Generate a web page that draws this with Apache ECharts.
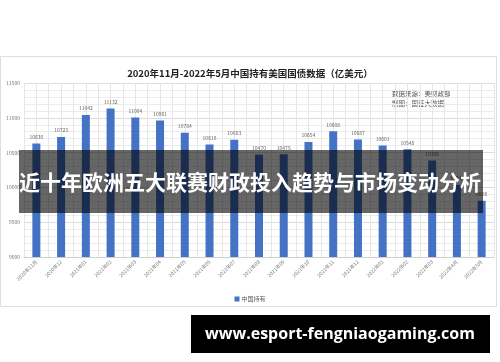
<!DOCTYPE html>
<html><head><meta charset="utf-8">
<script src="https://cdn.jsdelivr.net/npm/echarts@6/dist/echarts.min.js"></script>
<style>html,body{margin:0;padding:0;background:#fff}#c{width:500px;height:362px}</style>
</head><body><div id="c"></div>
<script>
const categories = ["2020年11月","2020年12","2021年01","2021年02","2021年03","2021年04","2021年05","2021年06","2021年07","2021年08","2021年09","2021年10","2021年11","2021年12","2022年01","2022年02","2022年03","2022年4月","2022年5月"];
const holdings = [10630,10723,11042,11132,11004,10961,10784,10618,10683,10470,10475,10654,10808,10687,10601,10548,10386,10036,9808];
const yTicks = [9000,9500,10000,10500,11000,11500];
const seriesName = "中国持有";
const titleText = "2020年11月-2022年5月中国持有美国国债数据（亿美元）";
const sourceLines = ["数据来源：美财政部","制图：国证大数据"];
const bannerText = "近十年欧洲五大联赛财政投入趋势与市场变动分析";
const watermark = "www.esport-fengniaogaming.com";

const F = '"Noto Sans CJK SC", "Noto Sans", sans-serif';
const chart = echarts.init(document.getElementById('c'));
chart.setOption({
  animation: false,
  backgroundColor: '#fff',
  textStyle: {fontFamily: F},
  title: {text: titleText, left: 'center', top: 64, textStyle: {fontSize: 9.5, fontWeight: 'bold', color: '#222', fontFamily: F}},
  legend: {data: [seriesName], left: 'center', top: 291, itemWidth: 5, itemHeight: 5, itemGap: 2, icon: 'rect',
    textStyle: {fontSize: 6, color: '#595959', padding: [0,0,0,-3]}},
  grid: {left: 24, right: 6, top: 83, bottom: 105},
  xAxis: [{
    type: 'category', data: categories,
    axisLine: {lineStyle: {color: '#d0d0d0'}}, axisTick: {show: false},
    splitLine: {show: false},
    axisLabel: {rotate: 45, fontSize: 5, color: '#777', interval: 0, margin: 4}
  }, {
    type: 'value', min: 0, max: 38, interval: 1, show: true, position: 'top',
    axisLine: {show: false}, axisTick: {show: false}, axisLabel: {show: false},
    splitLine: {show: true, lineStyle: {color: '#e6e6e6', width: 1}}
  }],
  yAxis: {
    type: 'value', min: yTicks[0], max: yTicks[yTicks.length-1], interval: 500,
    axisLine: {show: false}, axisTick: {show: false},
    axisLabel: {fontSize: 5, color: '#777', margin: 4, formatter: v => String(v)},
    splitLine: {lineStyle: {color: '#dcdcdc'}},
    minorTick: {show: false, splitNumber: 5},
    minorSplitLine: {show: true, lineStyle: {color: '#ececec'}}
  },
  series: [{
    name: seriesName, type: 'bar', data: holdings, barWidth: 8, xAxisIndex: 0,
    itemStyle: {color: '#4472C4'},
    label: {show: true, position: 'top', fontSize: 5, color: '#666', distance: 4}
  }],
  graphic: [
    {type: 'rect', shape: {x: 0.5, y: 56.5, width: 496, height: 250}, style: {fill: 'none', stroke: '#dedede', lineWidth: 1}, z: -10},
    {type: 'text', left: 392, top: 89, style: {text: sourceLines.join('\n'), fontSize: 6.5, lineHeight: 10, fill: '#555', fontFamily: F}},
    {type: 'rect', shape: {x: 19, y: 150, width: 464, height: 63}, style: {fill: 'rgba(0,0,0,0.6)'}, z: 100},
    {type: 'text', x: 250, y: 182, style: {text: bannerText, fontSize: 21, fontWeight: 'bold', fill: '#fff', align: 'center', verticalAlign: 'middle', fontFamily: F}, z: 101},
    {type: 'rect', shape: {x: 191, y: 315, width: 299, height: 38}, style: {fill: '#000'}, z: 100},
    {type: 'text', x: 340, y: 334, style: {text: watermark, fontSize: 16, fontWeight: 'bold', fill: '#fff', align: 'center', verticalAlign: 'middle', fontFamily: '"Open Sans", "DejaVu Sans", sans-serif'}, z: 101}
  ]
});
</script></body></html>
